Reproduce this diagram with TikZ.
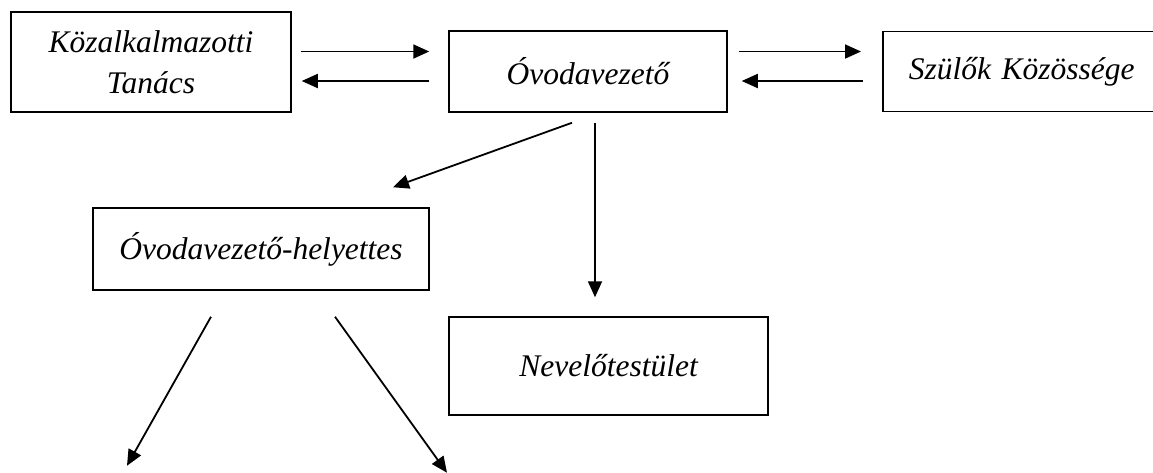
\documentclass[tikz,border=0pt]{standalone}
\usepackage{fontspec}
\setmainfont{Liberation Serif}
\usetikzlibrary{arrows.meta,calc}

\begin{document}
\begin{tikzpicture}[x=1pt,y=-1pt,>={Triangle[length=16pt,width=14pt]},
  box/.style={draw,line width=1.5pt,inner sep=0pt,align=center,
    font=\fontsize{31.5}{41}\selectfont\itshape},
  flow/.style={->,line width=1.8pt}]

  \clip (0,0) rectangle (1153,472);

  % boxes
  \node[box,minimum width=280,minimum height=100] (kt) at (151,62) {K\"ozalkalmazotti\\Tan\'acs};
  \node[box,minimum width=278,minimum height=81] (ov) at (588,71.5) {\'Ovodavezet\H{o}};
  \node[box,minimum width=300,minimum height=80,anchor=west,align=left,
    text width=248,inner xsep=26] (szk) at (882,71.5) {Sz\"ul\H{o}k K\"oz\"oss\'ege};
  \node[box,minimum width=336,minimum height=82] (hely) at (261,249) {\'Ovodavezet\H{o}-helyettes};
  \node[box,minimum width=319,minimum height=98] (nev) at (608.5,366) {Nevel\H{o}test\"ulet};

  % arrow ends
  \coordinate (up) at ($(ov.west)+(0,-20)$);
  \coordinate (dn) at ($(ov.west)+(0,9.5)$);
  \coordinate (d1) at ($(ov.south)+(-16,10)$);
  \coordinate (d2) at ($(hely.north)+(132,-20)$);
  \coordinate (v1) at ($(ov.south)+(7,10)$);
  \coordinate (v2) at ($(nev.north)+(-13.5,-19)$);
  \coordinate (l1) at ($(hely.south)+(-50,26)$);
  \coordinate (l2) at ($(hely.south)+(-134,175)$);
  \coordinate (r1) at ($(hely.south)+(74,26)$);
  \coordinate (r2) at ($(hely.south)+(186,182)$);

  \draw[flow,shorten <=9pt,shorten >=19pt] (up -| kt.east) -- (up);
  \draw[flow,shorten <=19pt,shorten >=10pt] (dn) -- (dn -| kt.east);
  \draw[flow,shorten <=11pt,shorten >=21pt] (up -| ov.east) -- (up -| szk.west);
  \draw[flow,shorten <=19pt,shorten >=14pt] (dn -| szk.west) -- (dn -| ov.east);
  \draw[flow] (d1) -- (d2);
  \draw[flow] (v1) -- (v2);
  \draw[flow] (l1) -- (l2);
  \draw[flow] (r1) -- (r2);
\end{tikzpicture}
\end{document}
